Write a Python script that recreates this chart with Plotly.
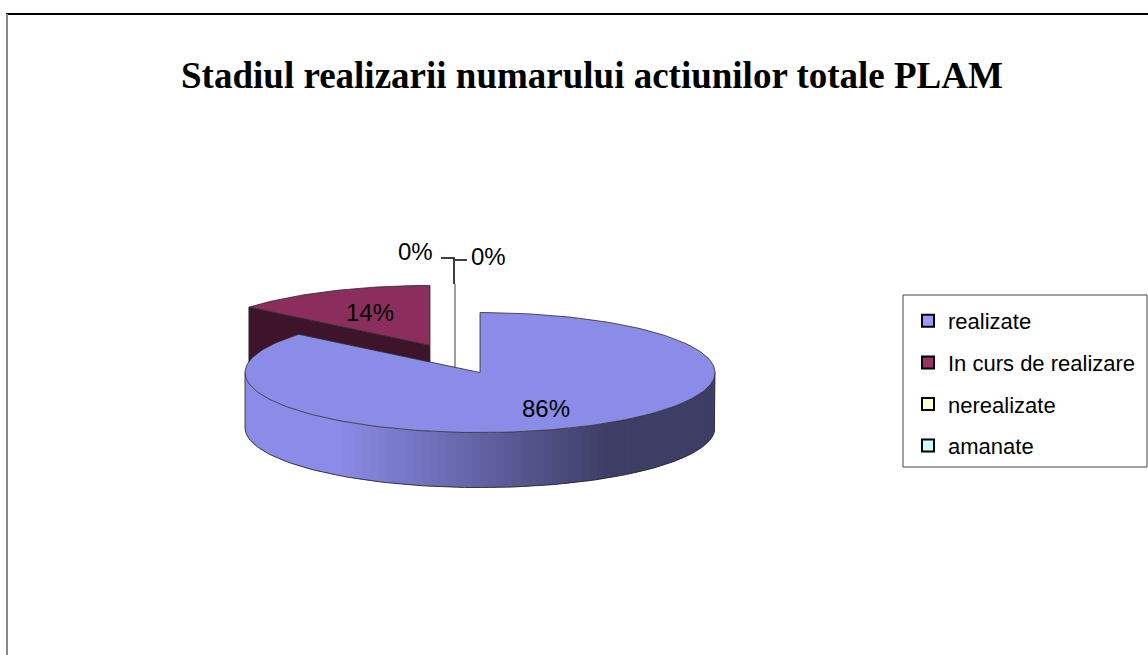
import numpy as np
import plotly.graph_objects as go

# ---------------- data ----------------
categories = ["realizate", "In curs de realizare", "nerealizate", "amanate"]
values = [86, 14, 0, 0]
base_colors = ["#9999FF", "#993366", "#FFFFCC", "#CCFFFF"]
title_text = "Stadiul realizarii numarului actiunilor totale PLAM"

# ---------------- layout / style (pixel space) ----------------
W, H = 1148, 655
CX, CY = 455, 359          # pie centre
RX, RY = 235, 60           # ellipse radii of the tilted top face
DEPTH = 55                 # thickness of the pie
EXPLODE = 0.25             # explosion (fraction of radius)
TOP_SHADE, SIDE_SHADE = 0.91, 0.40
OUTLINE = "#2a2a2a"
LABEL_FONT = dict(family="Liberation Sans, Arial, sans-serif", size=24, color="black")


def hex_to_rgb(h):
    h = h.lstrip("#")
    return np.array([int(h[i:i + 2], 16) for i in (0, 2, 4)], dtype=float)


def rgb(c):
    c = np.clip(np.round(c), 0, 255).astype(int)
    return "rgb(%d,%d,%d)" % tuple(c)


def rim(cx, cy, th, r=1.0):
    t = np.radians(th)
    return cx + RX * r * np.sin(t), cy - RY * r * np.cos(t)


fig = go.Figure()

total = float(sum(values))
starts, ends = [], []
acc = 0.0
for v in values:
    starts.append(360.0 * acc / total)
    acc += v
    ends.append(360.0 * acc / total)

slices = []
for i, v in enumerate(values):
    s, e = starts[i], ends[i]
    mid = (s + e) / 2.0
    t = np.radians(mid)
    ox, oy = EXPLODE * RX * np.sin(t), -EXPLODE * RY * np.cos(t)
    slices.append(dict(i=i, s=s, e=e, mid=mid, cx=CX + ox, cy=CY + oy))

# draw back slices first
order = sorted(range(len(values)), key=lambda k: slices[k]["cy"])


def poly(xs, ys, fill, line_w=0.0, line_c=OUTLINE):
    fig.add_trace(go.Scatter(
        x=list(xs), y=list(ys), mode="lines", fill="toself", fillcolor=fill,
        line=dict(color=line_c if line_w > 0 else fill, width=line_w),
        hoverinfo="skip", showlegend=False))


def line(xs, ys, color=OUTLINE, width=0.8):
    fig.add_trace(go.Scatter(
        x=list(xs), y=list(ys), mode="lines", line=dict(color=color, width=width),
        hoverinfo="skip", showlegend=False))


for k in order:
    sl = slices[k]
    base = hex_to_rgb(base_colors[k])
    top_c = base * TOP_SHADE
    side_c = base * SIDE_SHADE
    cx, cy, s, e = sl["cx"], sl["cy"], sl["s"], sl["e"]

    if values[k] == 0:
        # zero-width slice seen edge-on: a thin grey line
        x0, y0 = rim(cx, cy, s)
        line([x0, x0], [y0, cy + DEPTH], color="#8c8c8c", width=1.2)
        continue

    # radial cut faces
    for ang, kind in ((s, "start"), (e, "end")):
        sn = np.sin(np.radians(ang))
        visible = (sn < -1e-6) if kind == "start" else (sn > 1e-6)
        if visible:
            rx_, ry_ = rim(cx, cy, ang)
            poly([cx, rx_, rx_, cx, cx], [cy, ry_, ry_ + DEPTH, cy + DEPTH, cy],
                 rgb(side_c), 0.8)

    # outer wall (front half only) with horizontal gradient
    a0, a1 = max(s, 90.0), min(e, 270.0)
    if a1 > a0:
        n = 90
        angs = np.linspace(a0, a1, n + 1)
        step = angs[1] - angs[0]
        for j in range(n):
            t0, t1 = angs[j], min(angs[j + 1] + 0.6 * step, a1)
            tt = np.linspace(t0, t1, 4)
            xs, ys = rim(cx, cy, tt)
            xm = (xs[0] + xs[-1]) / 2.0
            f = (xm - (cx - RX)) / (2 * RX)
            g = np.clip((f - 0.19) / (0.77 - 0.19), 0, 1)
            col = top_c * (1 - g) + side_c * g
            px = np.concatenate([xs, xs[::-1], xs[:1]])
            py = np.concatenate([ys, ys[::-1] + DEPTH, ys[:1]])
            poly(px, py, rgb(col))
        tt = np.linspace(a0, a1, 120)
        xs, ys = rim(cx, cy, tt)
        line(np.concatenate([[xs[0]], xs, [xs[-1]]]),
             np.concatenate([[ys[0]], ys + DEPTH, [ys[-1]]]), width=0.9)

    # top face
    tt = np.linspace(s, e, 200)
    xs, ys = rim(cx, cy, tt)
    poly(np.concatenate([[cx], xs, [cx]]), np.concatenate([[cy], ys, [cy]]),
         rgb(top_c), 0.8)

# ---------------- data labels ----------------
LABEL_R = [0.66, 0.6, 0, 0]
zero_side = [0, 0, -1, 1]   # side of the leader for zero slices (layout)
for k, sl in enumerate(slices):
    pct = "%d%%" % round(100 * values[k] / total)
    if values[k] > 0:
        lx, ly = rim(sl["cx"], sl["cy"], sl["mid"], LABEL_R[k])
        fig.add_annotation(x=lx, y=ly, text=pct, showarrow=False, font=LABEL_FONT,
                           xanchor="center", yanchor="middle")
    else:
        px_, py_ = rim(sl["cx"], sl["cy"], sl["s"])
        sd = zero_side[k]
        if sd < 0:
            line([px_ - 14, px_ - 1, px_ - 1], [py_ - 26, py_ - 26, py_], color="black", width=1.5)
            fig.add_annotation(x=px_ - 20, y=py_ - 33, text=pct, showarrow=False,
                               font=LABEL_FONT, xanchor="right", yanchor="middle")
        else:
            line([px_ + 12, px_], [py_ - 24, py_ - 24], color="black", width=1.5)
            fig.add_annotation(x=px_ + 14, y=py_ - 28, text=pct, showarrow=False,
                               font=LABEL_FONT, xanchor="left", yanchor="middle")

# ---------------- legend entries ----------------
for k, cat in enumerate(categories):
    fig.add_trace(go.Scatter(
        x=[None], y=[None], mode="markers", name=cat, legendgroup=cat,
        marker=dict(symbol="square", size=10, color=base_colors[k],
                    line=dict(color="black", width=1.5)),
        showlegend=True))

# legend frame
fig.add_shape(type="rect", xref="x", yref="y", x0=903, x1=1147, y0=295, y1=467,
              line=dict(color="#444444", width=1), fillcolor="rgba(0,0,0,0)", layer="below")

# chart border (partially visible like the reference)
fig.add_shape(type="line", xref="x", yref="y", x0=6, x1=W, y0=14, y1=14,
              line=dict(color="black", width=2))
fig.add_shape(type="line", xref="x", yref="y", x0=7, x1=7, y0=14, y1=H,
              line=dict(color="#888888", width=2))

fig.update_layout(
    width=W, height=H,
    margin=dict(l=0, r=0, t=0, b=0),
    paper_bgcolor="white", plot_bgcolor="white",
    xaxis=dict(range=[0, W], visible=False, fixedrange=True),
    yaxis=dict(range=[H, 0], visible=False, fixedrange=True),
    hovermode=False,
    title=dict(text="<b>" + title_text + "</b>", x=592 / W, xanchor="center",
               y=1 - 75 / H, yanchor="middle",
               font=dict(family="Liberation Serif, Times New Roman, serif", size=37, color="black")),
    legend=dict(x=908 / W, y=1 - 300 / H, xanchor="left", yanchor="top",
                borderwidth=0, bgcolor="rgba(0,0,0,0)",
                font=dict(family="Liberation Sans, Arial, sans-serif", size=22, color="black"),
                tracegroupgap=10, traceorder="grouped", itemsizing="constant"),
    showlegend=True,
)

fig.write_html("out.html", post_script="document.body.style.margin='0';",
               config={"displayModeBar": False})
